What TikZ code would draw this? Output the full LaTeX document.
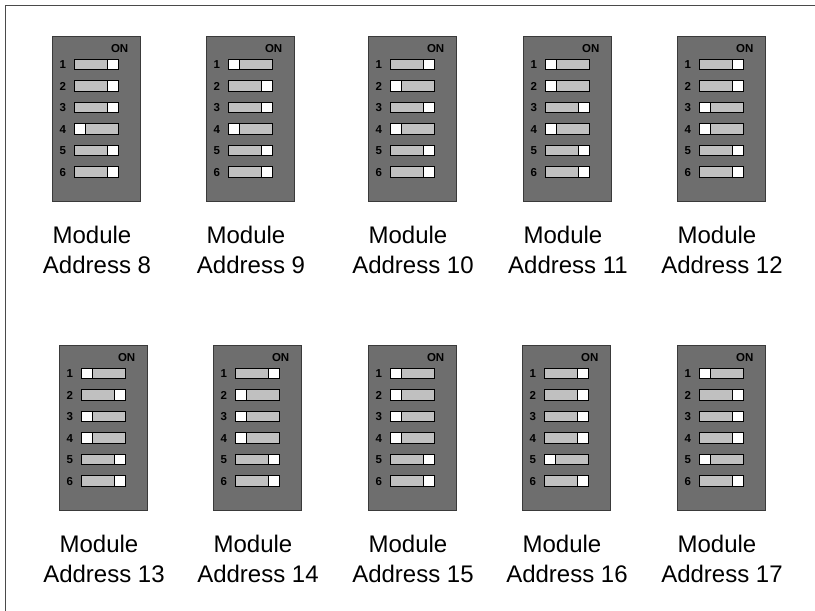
\documentclass[tikz,border=0pt]{standalone}
\usepackage{fontspec}
\setmainfont{Liberation Sans}
\usetikzlibrary{calc}
\definecolor{bodygray}{HTML}{6E6E6E}
\definecolor{bodyedge}{HTML}{3A3A3A}
\definecolor{slotgray}{HTML}{C0C0C0}
\definecolor{framegray}{HTML}{4A4A4A}
\tikzset{
  dipbody/.style={draw=bodyedge, fill=bodygray, line width=1pt, rectangle, minimum width=88pt, minimum height=165pt, inner sep=0pt, anchor=north west},
  onlbl/.style={font=\fontsize{11.5}{13}\selectfont\bfseries, inner sep=0pt, anchor=base east},
  numlbl/.style={font=\fontsize{11.5}{13}\selectfont\bfseries, inner sep=0pt, anchor=base},
  slot/.style={draw=black, fill=slotgray, line width=0.9pt},
  knob/.style={draw=black, fill=white, line width=0.9pt},
  modlbl/.style={font=\fontsize{24}{28}\selectfont, inner sep=0pt, anchor=base},
}
\newcommand\dipsw[5]{% #1 name, #2 x, #3 y top, #4 states, #5 address
  \node[dipbody] (#1) at (#2,#3) {};
  \begin{scope}[shift={(#2,#3)}]
    \node[onlbl] (#1-on) at (76.5,16.5) {ON};
    \foreach \s [count=\i] in {#4} {
      \pgfmathsetmacro{\yc}{28.5+21.5*(\i-1)}
      \node[numlbl] (#1-n\i) at (10.8,\yc+4) {\i};
      \draw[slot] (22.3,\yc-5.3) rectangle (66.7,\yc+5.3);
      \if\s L
        \draw[knob] (22.3,\yc-5.3) rectangle (33.7,\yc+5.3);
      \else
        \draw[knob] (55.3,\yc-5.3) rectangle (66.7,\yc+5.3);
      \fi
    }
    \node[modlbl] (#1-t1) at (40,207) {Module};
    \node[modlbl] (#1-t2) at (45,237) {Address #5};
  \end{scope}
}
\begin{document}
\begin{tikzpicture}[x=1pt,y=-1pt]
\useasboundingbox (0,0) rectangle (815,611);
\draw[framegray, line width=1.6pt] (5.5,611) -- (5.5,5.5) -- (815,5.5);
\dipsw{m8}{52}{36}{R,R,R,L,R,R}{8}
\dipsw{m9}{206}{36}{L,R,R,L,R,R}{9}
\dipsw{m10}{368}{36}{R,L,R,L,R,R}{10}
\dipsw{m11}{523}{36}{L,L,R,L,R,R}{11}
\dipsw{m12}{677}{36}{R,R,L,L,R,R}{12}
\dipsw{m13}{59}{345}{L,R,L,L,R,R}{13}
\dipsw{m14}{213}{345}{R,L,L,L,R,R}{14}
\dipsw{m15}{368}{345}{L,L,L,L,R,R}{15}
\dipsw{m16}{522}{345}{R,R,R,R,L,R}{16}
\dipsw{m17}{677}{345}{L,R,R,R,L,R}{17}
\end{tikzpicture}
\end{document}
